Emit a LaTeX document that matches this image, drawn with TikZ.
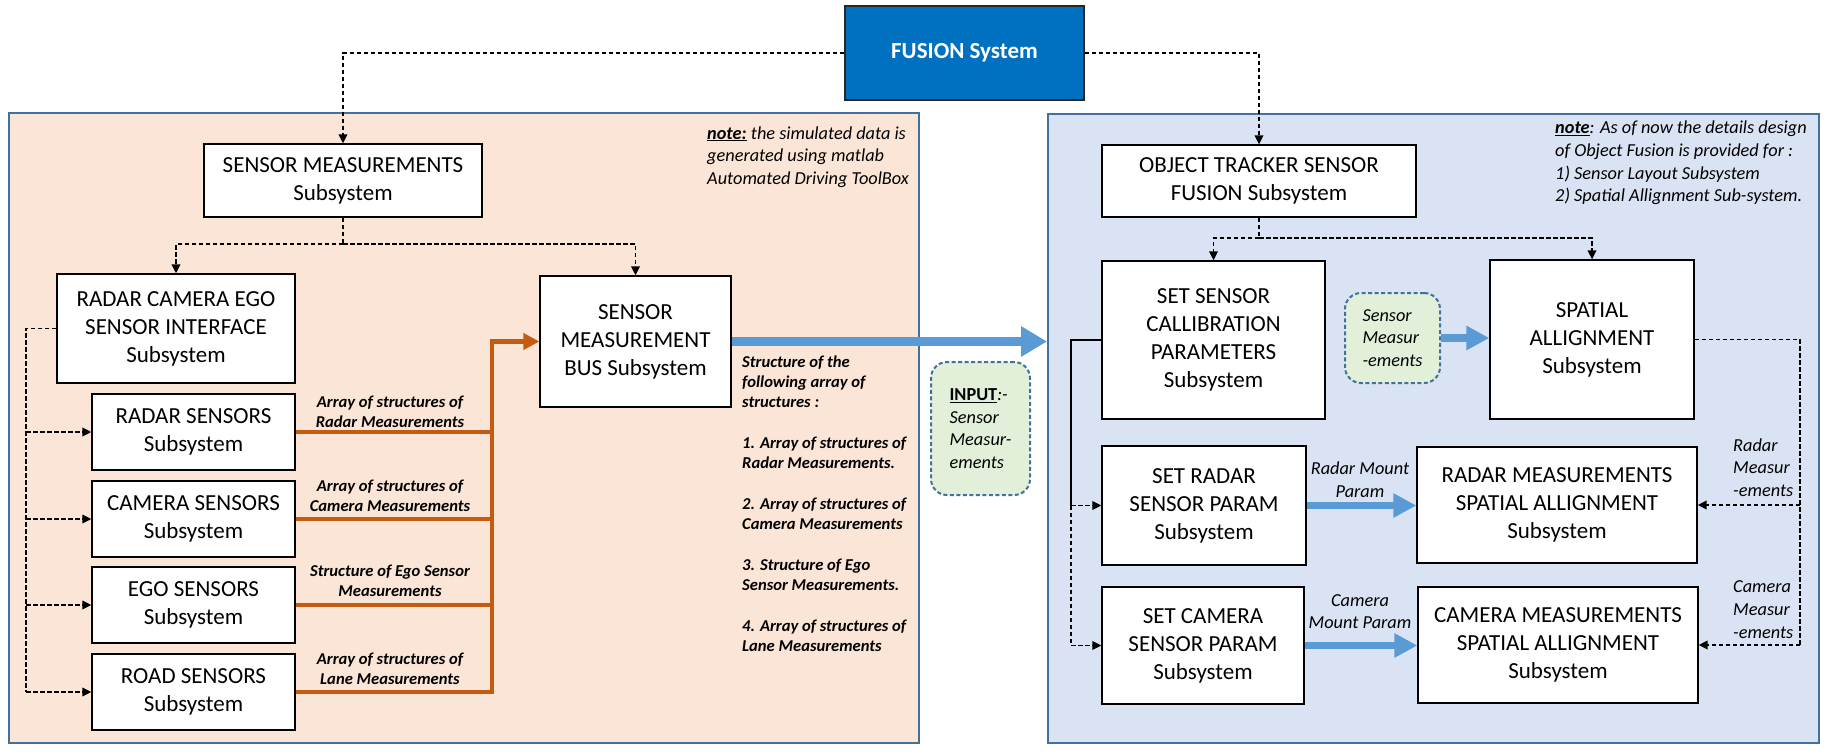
\documentclass[tikz,border=0pt]{standalone}
\usepackage{fontspec}
\setmainfont{Carlito}
\usetikzlibrary{arrows.meta}
\definecolor{peach}{RGB}{251,229,214}
\definecolor{paleblue}{RGB}{218,227,243}
\definecolor{panelborder}{RGB}{65,113,156}
\definecolor{fusionblue}{RGB}{0,112,192}
\definecolor{orng}{RGB}{197,90,17}
\definecolor{barrow}{RGB}{91,155,213}
\definecolor{palegreen}{RGB}{226,240,217}
\begin{document}
\begin{tikzpicture}[x=1pt,y=-1pt,
  panel/.style={draw=panelborder, line width=2pt, inner sep=0pt},
  box/.style={draw=black, line width=1.3pt, fill=white, align=center, inner sep=0pt, font=\fontsize{23}{28}\selectfont},
  sensorbox/.style={box, minimum width=203pt, minimum height=76pt},
  dl/.style={draw=black, line width=1.9pt, dash pattern=on 4.5pt off 2.5pt, -{Triangle[length=9pt,width=8.5pt]}},
  dln/.style={draw=black, line width=1.9pt, dash pattern=on 4.5pt off 2.5pt},
  orl/.style={draw=orng, line width=4.5pt},
  bar/.style={draw=barrow, line width=7.5pt, -{Triangle[length=23pt,width=23pt]}},
  greenbox/.style={draw=panelborder, line width=2pt, dash pattern=on 4pt off 2.5pt, fill=palegreen, rounded corners=16pt, align=left, inner sep=0pt, font=\itshape\fontsize{18.3}{22.5}\selectfont},
  olab/.style={align=center, inner sep=0pt, font=\bfseries\itshape\fontsize{16.6}{20.3}\selectfont},
  ilab/.style={inner sep=0pt, font=\itshape\fontsize{18.3}{22.7}\selectfont}]
\useasboundingbox[fill=white] (0,0) rectangle (1827,754);

% panels
\node[panel, fill=peach, minimum width=910pt, minimum height=630pt] (lp) at (464,428) {};
\node[panel, fill=paleblue, minimum width=771pt, minimum height=629pt] (rp) at (1433.5,428.5) {};

% top
\node[draw=black!85, line width=1.2pt, fill=fusionblue, minimum width=239pt, minimum height=94pt, inner sep=0pt, text=white, font=\bfseries\fontsize{23}{28}\selectfont] (fusion) at (964.5,53) {FUSION System};

% left boxes
\node[box, minimum width=278pt, minimum height=73pt] (sm) at (343,180.5) {SENSOR MEASUREMENTS\\Subsystem};
\node[box, minimum width=238pt, minimum height=109pt] (rce) at (176,328.5) {RADAR CAMERA EGO\\SENSOR INTERFACE\\Subsystem};
\node[box, minimum width=191pt, minimum height=131pt] (bus) at (635.5,341.5) {SENSOR\\MEASUREMENT\\BUS Subsystem};
\node[sensorbox] (radar) at (193.5,432) {RADAR SENSORS\\Subsystem};
\node[sensorbox] (camera) at (193.5,519) {CAMERA SENSORS\\Subsystem};
\node[sensorbox] (ego) at (193.5,605) {EGO SENSORS\\Subsystem};
\node[sensorbox] (road) at (193.5,692) {ROAD SENSORS\\Subsystem};

% right boxes
\node[box, minimum width=314pt, minimum height=72pt] (ot) at (1259,181) {OBJECT TRACKER SENSOR\\FUSION Subsystem};
\node[box, minimum width=223pt, minimum height=158pt] (cal) at (1213.5,340) {SET SENSOR\\CALLIBRATION\\PARAMETERS\\Subsystem};
\node[box, minimum width=204pt, minimum height=159pt] (spa) at (1592,339.5) {SPATIAL\\ALLIGNMENT\\Subsystem};
\node[box, minimum width=204pt, minimum height=119pt] (srad) at (1204,505.5) {SET RADAR\\SENSOR PARAM\\Subsystem};
\node[box, minimum width=280pt, minimum height=116pt] (rmeas) at (1557,505) {RADAR MEASUREMENTS\\SPATIAL ALLIGNMENT\\Subsystem};
\node[box, minimum width=202pt, minimum height=117pt] (scam) at (1203,645.5) {SET CAMERA\\SENSOR PARAM\\Subsystem};
\node[box, minimum width=280pt, minimum height=116pt] (cmeas) at (1558,645) {CAMERA MEASUREMENTS\\SPATIAL ALLIGNMENT\\Subsystem};

% green boxes
\node[greenbox, minimum width=95pt, minimum height=90pt] (sme) at (1392.5,338) {Sensor\\Measur\\-ements};
\node[greenbox, minimum width=99pt, minimum height=133pt] (inp) at (980.5,428.5) {{\upshape\bfseries\underline{INPUT}}:-\\Sensor\\Measur-\\ements};

% dashed connectors, left
\draw[dl] (fusion.west) -| (sm.north);
\draw[dl] (fusion.east) -| (ot.north);
\coordinate (smj) at (343,244);
\draw[dln] (sm.south) -- (smj);
\draw[dl] (smj) -| (rce.north);
\draw[dl] (smj) -| (bus.north);
\coordinate (rcl) at (26,328.5);
\coordinate (rcb) at (26,692);
\draw[dln] (rce.west) -- (rcl) -- (rcb);
\foreach \n in {radar,camera,ego,road} \draw[dl] (rcl |- \n.west) -- (\n.west);

% orange connectors
\coordinate (trunk) at (492,692);
\foreach \n in {radar,camera,ego} \draw[orl] (\n.east) -- (\n.east -| trunk);
\draw[orl, -{Triangle[length=16pt,width=16pt]}] (road.east) -- (trunk) |- (bus.west);

% dashed connectors, right
\coordinate (otj) at (1259,238);
\draw[dln] (ot.south) -- (otj);
\draw[dl] (otj) -| (cal.north);
\draw[dl] (otj) -| (spa.north);
\coordinate (cl) at (1071,340);
\draw[black, line width=1.8pt] (cal.west) -- (cl) -- (cl |- srad.west);
\draw[dln] (cl |- srad.west) -- (cl |- scam.west);
\draw[dl] (cl |- srad.west) -- (srad.west);
\draw[dl] (cl |- scam.west) -- (scam.west);
\coordinate (sr) at (1800,339.5);
\draw[dln] (spa.east) -- (sr) -- (sr |- cmeas.east);
\draw[dl] (sr |- rmeas.east) -- (rmeas.east);
\draw[dl] (sr |- cmeas.east) -- (cmeas.east);

% blue arrows
\draw[draw=barrow, line width=9pt, -{Triangle[length=26pt,width=29pt]}] (bus.east) -- (bus.east -| rp.west);
\draw[bar] (sme.east) -- (sme.east -| spa.west);
\draw[bar] (srad.east) -- (srad.east -| rmeas.west);
\draw[bar] (scam.east) -- (scam.east -| cmeas.west);

% orange labels
\node[olab] (l1) at (390,412) {Array of structures of\\Radar Measurements};
\node[olab] (l2) at (390,496) {Array of structures of\\Camera Measurements};
\node[olab] (l3) at (390,581) {Structure of Ego Sensor\\Measurements};
\node[olab] (l4) at (390,669) {Array of structures of\\Lane Measurements};

% structure list
\node[olab, align=left, anchor=west] (slist) at (742,503.5) {Structure of the\\following array of\\structures :\\[20.3pt]1. Array of structures of\\Radar Measurements.\\[20.3pt]2. Array of structures of\\Camera Measurements\\[20.3pt]3. Structure of Ego\\Sensor Measurements.\\[20.3pt]4. Array of structures of\\Lane Measurements};

% notes
\node[ilab, align=left, anchor=west] (noteL) at (707,157) {\textbf{\underline{note:}} the simulated data is\\generated using matlab\\Automated Driving ToolBox};
\node[ilab, align=left, anchor=west] (noteR) at (1555,163) {\textbf{\underline{note}}: As of now the details design\\of Object Fusion is provided for :\\1) Sensor Layout Subsystem\\2) Spatial Allignment Sub-system.};

% right labels
\node[ilab, align=center] (rmp) at (1360,479.5) {Radar Mount\\Param};
\node[ilab, align=center] (cmp) at (1360,611.5) {Camera\\Mount Param};
\node[ilab, align=left, anchor=west] (rml) at (1733,467.5) {Radar\\Measur\\-ements};
\node[ilab, align=left, anchor=west] (cml) at (1733,609.5) {Camera\\Measur\\-ements};
\end{tikzpicture}
\end{document}
